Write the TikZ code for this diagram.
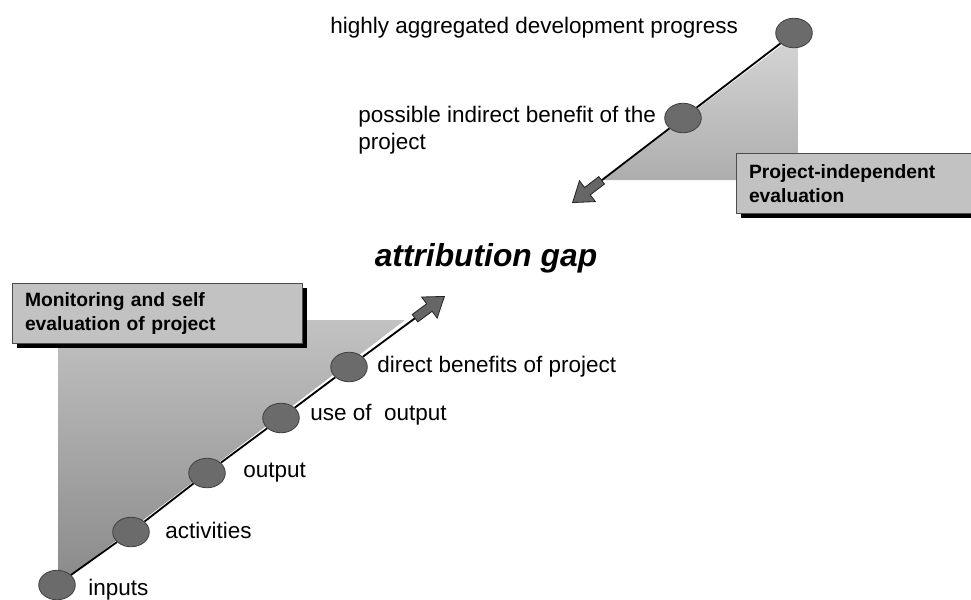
\documentclass[tikz,border=0pt]{standalone}
\usepackage{fontspec}
\setmainfont{Liberation Sans}
\usetikzlibrary{arrows.meta}
\usetikzlibrary{shadows}
\usetikzlibrary{shapes.geometric}
\usetikzlibrary{shapes.arrows}

\definecolor{dotgray}{gray}{0.42}
\definecolor{arrowgray}{gray}{0.40}
\definecolor{boxgray}{gray}{0.76}
\definecolor{lowtop}{gray}{0.76}
\definecolor{lowbot}{gray}{0.54}
\definecolor{hightop}{gray}{0.84}
\definecolor{highbot}{gray}{0.68}

\tikzset{
  stagedot/.style={ellipse, draw=black!75, fill=dotgray, minimum width=26, minimum height=21, inner sep=0pt, line width=0.6pt},
  stagelabel/.style={anchor=west, inner sep=0pt, font=\fontsize{16}{19}\selectfont, align=left},
  evalbox/.style={draw=black!70, fill=boxgray, anchor=north west, inner xsep=9pt, inner ysep=0pt, align=left,
    font=\fontsize{13.7}{17}\selectfont\bfseries, text width=#1, minimum height=42.5pt, line width=0.5pt,
    drop shadow={shadow xshift=3.5pt, shadow yshift=-3.5pt, fill=black, opacity=1}},
  chainline/.style={draw=black, line width=1.3pt},
  blockarrow/.style={single arrow, draw=black!85, fill=arrowgray, line width=0.6pt, inner sep=3pt,
    minimum width=17pt, single arrow head extend=6pt, single arrow tip angle=70, minimum height=26pt,
    sloped, allow upside down, pos=1, anchor=tip},
}

\begin{document}
\begin{tikzpicture}[x=0.025cm, y=-0.025cm]
  \useasboundingbox (0,0) rectangle (971,599);
  % shaded areas
  \shade[top color=lowtop, bottom color=lowbot] (58,585) -- (58,320) -- (405,320) -- cycle;
  \shade[top color=hightop, bottom color=highbot] (798,33) -- (798,180) -- (603,180) -- cycle;

  % evaluation boxes
  \node[evalbox=188pt] (selfeval) at (12,283) {Monitoring and self\\evaluation of project};
  \node[evalbox=160pt] (indepeval) at (736,153) {Project-independent\\evaluation};

  % project chain
  \node[stagedot] (inputs) at (57,585) {};
  \node[stagedot] (activities) at (131,532) {};
  \node[stagedot] (output) at (207,473) {};
  \node[stagedot] (useout) at (281,418) {};
  \node[stagedot] (direct) at (349,367) {};
  \coordinate (projtip) at (445,296);
  \path (direct) -- (projtip) node[blockarrow] (projarrow) {};
  \draw[chainline] (inputs) -- (activities) -- (output) -- (useout) -- (direct) -- (projarrow.tail);

  % development chain
  \node[stagedot] (aggregated) at (794,33) {};
  \node[stagedot] (indirect) at (683,118) {};
  \coordinate (devtip) at (572,203);
  \path (indirect) -- (devtip) node[blockarrow] (devarrow) {};
  \draw[chainline] (aggregated) -- (indirect) -- (devarrow.tail);

  % labels
  \node[stagelabel] (inputslabel) at (88,590) {inputs};
  \node[stagelabel] (activitieslabel) at (165,530) {activities};
  \node[stagelabel] (outputlabel) at (243,473) {output};
  \node[stagelabel] (useoutlabel) at (310,415) {use of~ output};
  \node[stagelabel] (directlabel) at (377,367) {direct benefits of project};
  \node[stagelabel] (aggregatedlabel) at (330,28) {highly aggregated development progress};
  \node[stagelabel, anchor=north west] (indirectlabel) at (358,106) {possible indirect benefit of the\\project};
  \node[inner sep=0pt, font=\fontsize{22.6}{26}\selectfont\bfseries\itshape] (gap) at (486,258) {attribution gap};
\end{tikzpicture}
\end{document}
